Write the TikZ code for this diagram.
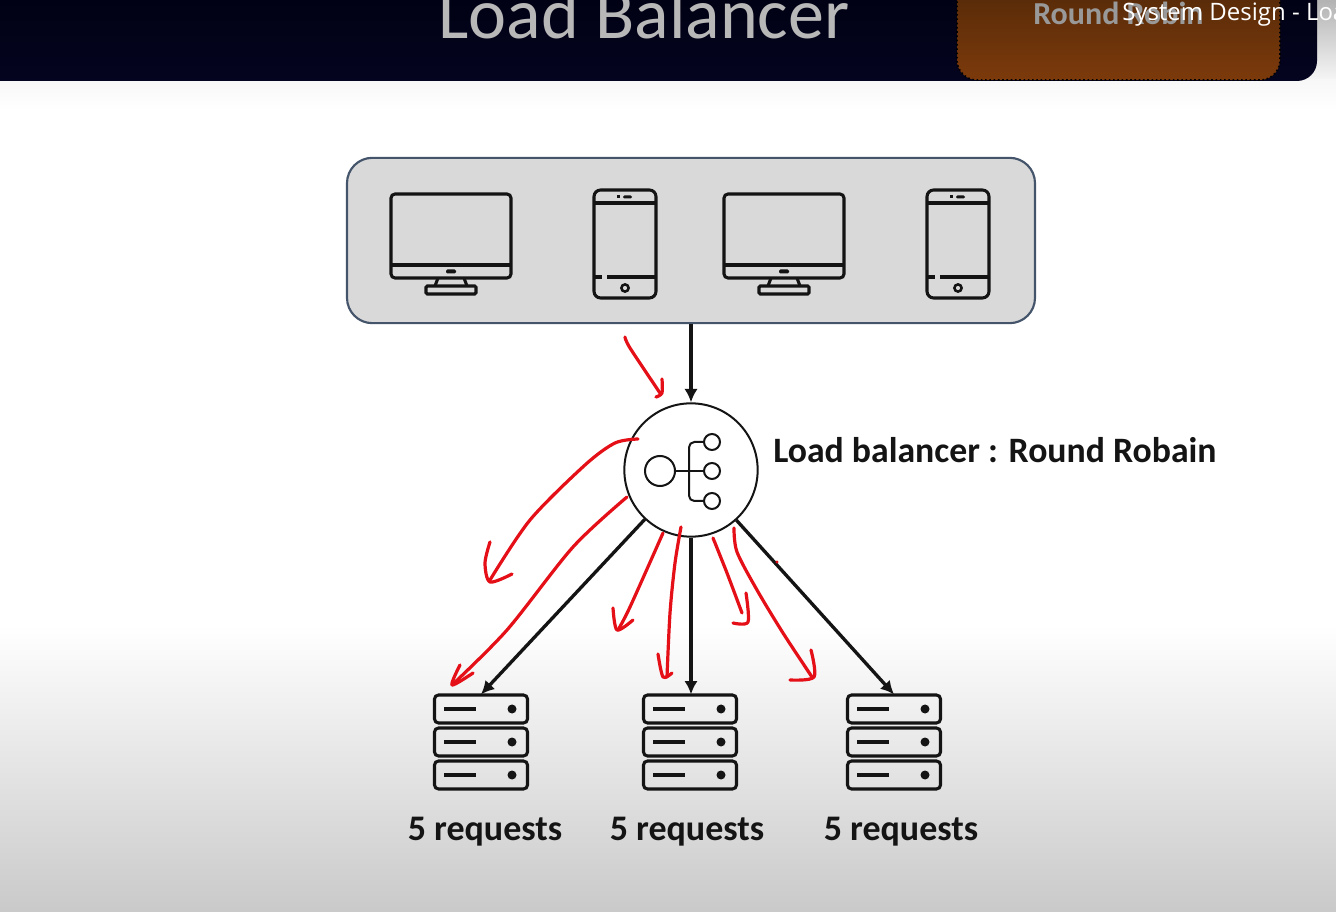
\documentclass[tikz,border=0pt]{standalone}
\usepackage{fontspec}
\setmainfont{Carlito}
\newfontfamily\captionfont{Open Sans}
\usetikzlibrary{positioning,arrows.meta}

\definecolor{bandtop}{HTML}{00000F}
\definecolor{bandlow}{HTML}{040420}
\definecolor{boxtop}{HTML}{4A2508}
\definecolor{boxlow}{HTML}{7C3A0B}
\definecolor{panelfill}{HTML}{D9D9D9}
\definecolor{paneledge}{HTML}{44546A}
\definecolor{iconink}{HTML}{141414}
\definecolor{inkred}{HTML}{E50F18}

\tikzset{
  iconline/.style={draw=iconink, line width=2.3pt, rounded corners=3pt},
  redstroke/.style={draw=inkred, line width=2.4pt, line cap=round, line join=round},
  link/.style={draw=iconink, line width=2.5pt, -{Latex[length=10pt,width=10pt]}},
  reqlabel/.style={font=\bfseries\fontsize{27}{27}\selectfont, text=iconink, anchor=base},
  srvslot/.style={minimum width=71pt, minimum height=71pt, inner sep=0pt},
  pics/monitor/.style={code={
    \draw[iconline] (0,0) rectangle (120,84);
    \draw[iconink, line width=2.3pt] (0,71) -- (120,71);
    \fill[iconink, rounded corners=1pt] (55,75.5) rectangle (65,79.5);
    \draw[iconink, line width=2.3pt] (47,84) -- (44,92) (73,84) -- (76,92);
    \draw[iconline, rounded corners=1pt] (35,92) rectangle (85,100);
  }},
  pics/phone/.style={code={
    \draw[iconline, rounded corners=5pt] (0,0) rectangle (62,108);
    \draw[iconink, line width=2.3pt] (0,13) -- (62,13);
    \draw[iconink, line width=2.3pt] (0,87) -- (8,87) (13,87) -- (62,87);
    \fill[iconink] (23,5.5) rectangle (26,8.5);
    \fill[iconink, rounded corners=1pt] (29,5.5) rectangle (38,8.5);
    \draw[iconink, line width=1.9pt] (31,98) circle (3.6);
  }},
  pics/rack/.style={code={
    \foreach \ty in {0,33,66} {
      \draw[iconline] (-46.5,-47+\ty) rectangle (46.5,-19+\ty);
      \draw[iconink, line width=2.3pt] (-37,-33+\ty) -- (-5,-33+\ty);
      \fill[iconink] (31,-33+\ty) circle (4.5);
    }
  }}
}

\begin{document}
\begin{tikzpicture}[x=0.75pt, y=-0.75pt, >=Latex]
  \useasboundingbox (0,0) rectangle (1336,912);
  \clip (0,0) rectangle (1336,912);

  % page and header
  \fill[white] (0,0) rectangle (1336,912);
  \shade[top color=white, bottom color=black!21] (0,625) rectangle (1336,912);
  \shade[top color=black!30, bottom color=black!3] (1300,0) rectangle (1336,82);
  \shade[top color=black!3, bottom color=white] (0,80) rectangle (1336,110);
  \shade[top color=bandtop, bottom color=bandlow, rounded corners=15pt] (-40,-40) rectangle (1317,81);
  \shade[top color=boxtop, bottom color=boxlow, rounded corners=15pt] (957,-40) rectangle (1280,80);
  \draw[black, dotted, line width=1.2pt, rounded corners=15pt] (957,-40) rectangle (1280,80);
  \node[anchor=base, text=black!28, font=\fontsize{54}{54}\selectfont] (title) at (644,39) {Load Balancer};
  \node[anchor=base west, inner sep=0pt, text=black!40, font=\bfseries\fontsize{24}{24}\selectfont] (mode) at (1033,25) {Round Robin};
  \node[anchor=base west, inner sep=0pt, text=white, font=\captionfont\fontsize{18}{18}\selectfont] (video) at (1122,21) {System Design - Load Balancer};

  % clients
  \node[draw=paneledge, fill=panelfill, line width=1.6pt, rounded corners=19pt, minimum width=516pt, minimum height=124pt, inner sep=0pt] (clients) at (691,240.5) {};
  \pic at (391,194) {monitor};
  \pic at (594,190) {phone};
  \pic at (724,194) {monitor};
  \pic at (927,190) {phone};

  % load balancer
  \node[circle, draw=iconink, fill=white, line width=1.5pt, minimum size=100pt, inner sep=0pt] (lb) at (691,470) {};
  \node[anchor=base west, inner sep=0pt, font=\bfseries\fontsize{26.8}{27}\selectfont, text=iconink] (lbtext) at (773,462.5) {Load balancer : Round Robain};
  \node[circle, draw=iconink, line width=1.5pt, minimum size=22.5pt, inner sep=0pt] (hub) at (660,471) {};
  \node[circle, draw=iconink, line width=1.5pt, minimum size=12pt, inner sep=0pt] (leafa) at (712,442) {};
  \node[circle, draw=iconink, line width=1.5pt, minimum size=12pt, inner sep=0pt] (leafb) at (712,471) {};
  \node[circle, draw=iconink, line width=1.5pt, minimum size=12pt, inner sep=0pt] (leafc) at (712,501) {};
  \draw[iconink, line width=1.5pt] (hub) -- (leafb);
  \draw[iconink, line width=1.5pt, rounded corners=4pt] (leafa) -| (689,471) |- (leafc);

  % servers
  \node[srvslot] (srva) at (481,742) {};
  \node[srvslot] (srvb) at (690,742) {};
  \node[srvslot] (srvc) at (894,742) {};
  \pic at (srva) {rack};
  \pic at (srvb) {rack};
  \pic at (srvc) {rack};
  \node[reqlabel] (reqa) at (485,840) {5 requests};
  \node[reqlabel] (reqb) at (687,840) {5 requests};
  \node[reqlabel] (reqc) at (901,840) {5 requests};

  % connectors
  \draw[link] (clients.south -| lb) -- (lb.north);
  \draw[link] (lb) -- (srva.north);
  \draw[link] (lb.south) -- (srvb.north -| lb);
  \draw[link] (lb) -- (srvc.north);

  % pen strokes
  \draw[redstroke] plot[smooth] coordinates {(625,337) (630,348) (660,393)};
  \draw[redstroke] plot[smooth] coordinates {(662,379) (662,393) (656,397)};
  \draw[redstroke] plot[smooth] coordinates {(638,439) (615,443) (585,465) (530,520) (490,580)};
  \draw[redstroke] plot[smooth] coordinates {(490,542) (485,563) (490,582) (512,574)};
  \draw[redstroke] plot[smooth] coordinates {(627,497) (573,547) (507,630) (452,685)};
  \draw[redstroke] plot[smooth] coordinates {(460,665) (452,685) (473,673)};
  \draw[redstroke] plot[smooth] coordinates {(663,533) (630,607) (618,630)};
  \draw[redstroke] plot[smooth] coordinates {(613,608) (617,630) (633,620)};
  \draw[redstroke] plot[smooth] coordinates {(681,527) (675,563) (670,613) (667,677)};
  \draw[redstroke] plot[smooth] coordinates {(658,654) (663,677) (672,673)};
  \draw[redstroke] plot[smooth] coordinates {(713,538) (727,573) (742,613)};
  \draw[redstroke] plot[smooth] coordinates {(746,593) (748,622) (733,623)};
  \draw[redstroke] plot[smooth] coordinates {(734,528) (737,552) (757,590) (783,633) (812,677)};
  \draw[redstroke] plot[smooth] coordinates {(811,650) (814,677) (790,680)};
  \fill[inkred] (777,562) circle (1.6);
\end{tikzpicture}
\end{document}
